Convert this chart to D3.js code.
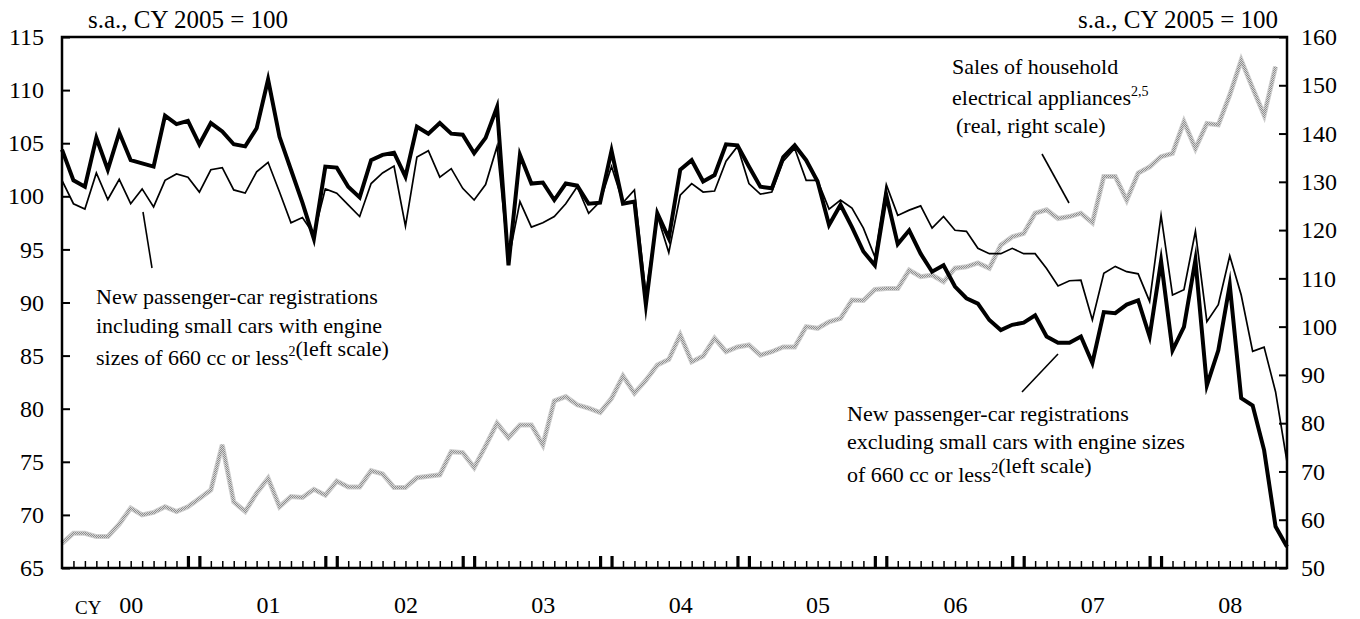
<!DOCTYPE html>
<html>
<head>
<meta charset="utf-8">
<script src="https://cdn.jsdelivr.net/npm/d3@7"></script>
<style>
  body { margin: 0; background: #fff; }
  text { font-family: "Liberation Serif", "Times New Roman", serif; fill: #000; }
  .tick line { stroke: #000; }
  .note { font-size: 22px; }
  .axis text { font-size: 24px; }
</style>
</head>
<body>
<div id="chart"></div>
<script>
//////////////////////////////////////////////////////
///////////////////// data ///////////////////////////
//////////////////////////////////////////////////////

// monthly, Jan 2000 .. Dec 2008 (s.a., CY 2005 = 100)
const yearLabels = ["00", "01", "02", "03", "04", "05", "06", "07", "08"]

// new passenger-car registrations excluding small cars (left scale)
const exclSmall = [
  104.4, 101.5, 100.9, 105.5, 102.5, 106.0, 103.4, 103.1, 102.8, 107.6, 106.8, 107.1,
  104.9, 106.9, 106.1, 104.9, 104.7, 106.4, 111.0, 105.6, 102.5, 99.4, 96.0, 102.8,
  102.7, 100.9, 99.9, 103.4, 103.9, 104.1, 101.85, 106.55, 105.9, 106.9, 105.9, 105.8,
  104.05, 105.5, 108.4, 93.5, 103.9, 101.2, 101.3, 99.65, 101.2, 101.0, 99.3, 99.4,
  104.3, 99.3, 99.5, 89.8, 98.4, 96.05, 102.5, 103.4, 101.4, 102.0, 104.9, 104.8,
  102.8, 100.9, 100.75, 103.7, 104.8, 103.4, 101.4, 97.3, 99.2, 97.1, 94.8, 93.5,
  100.1, 95.5, 96.8, 94.6, 92.9, 93.5, 91.5, 90.4, 89.9, 88.35, 87.4, 87.9,
  88.1, 88.8, 86.8, 86.2, 86.2, 86.8, 84.3, 89.1, 89.0, 89.8, 90.2, 86.8,
  93.9, 85.5, 87.7, 94.0, 82.2, 85.5, 91.65, 81.0, 80.3, 76.1, 68.9, 67.0
]

// new passenger-car registrations including small cars (left scale)
const inclSmall = [
  101.5, 99.3, 98.8, 102.2, 99.7, 101.6, 99.3, 100.7, 99.0, 101.5, 102.1, 101.8,
  100.4, 102.5, 102.7, 100.6, 100.3, 102.3, 103.2, 100.4, 97.5, 98.0, 96.4, 100.7,
  100.3, 99.2, 98.1, 101.2, 102.2, 102.85, 97.2, 103.7, 104.3, 101.8, 102.6, 100.75,
  99.65, 101.1, 104.7, 94.0, 99.5, 97.1, 97.5, 98.1, 99.3, 100.9, 98.4, 99.5,
  102.8, 99.4, 100.6, 90.8, 98.2, 94.7, 100.1, 101.2, 100.4, 100.5, 103.3, 104.7,
  101.2, 100.2, 100.4, 103.3, 104.5, 101.5, 101.5, 98.8, 99.65, 98.9, 97.0, 94.3,
  101.1, 98.2, 98.7, 99.1, 97.0, 98.1, 96.8, 96.7, 95.1, 94.6, 94.6, 95.1,
  94.6, 94.6, 93.2, 91.55, 92.05, 92.1, 88.35, 92.75, 93.4, 92.9, 92.7, 90.1,
  98.2, 90.7, 91.2, 96.7, 88.2, 89.8, 94.4, 90.7, 85.4, 85.8, 81.6, 75.0
]

// sales of household electrical appliances, real (right scale), to Nov 2008
const appliances = [
  55.1, 57.2, 57.2, 56.5, 56.5, 59.1, 62.4, 61.0, 61.5, 62.7, 61.7, 62.7,
  64.4, 66.15, 75.5, 63.7, 61.7, 65.5, 68.6, 62.7, 64.8, 64.6, 66.3, 65.1,
  68.0, 66.8, 66.8, 70.15, 69.5, 66.7, 66.7, 68.7, 69.0, 69.3, 74.1, 73.9,
  70.8, 75.3, 80.0, 77.0, 79.6, 79.6, 75.5, 84.6, 85.5, 83.8, 83.1, 82.2,
  85.15, 89.8, 86.2, 88.9, 92.05, 93.2, 98.3, 92.7, 93.9, 97.6, 94.8, 95.8,
  96.2, 94.1, 94.8, 95.8, 95.8, 100.0, 99.65, 101.0, 101.7, 105.5, 105.4, 107.7,
  107.9, 107.9, 111.7, 110.35, 110.7, 109.3, 112.1, 112.4, 113.2, 112.1, 116.9, 118.6,
  119.3, 123.5, 124.2, 122.4, 122.8, 123.5, 121.5, 131.1, 131.1, 126.2, 131.8, 133.1,
  135.2, 135.9, 142.45, 136.9, 142.1, 141.8, 148.0, 155.2, 149.4, 143.8, 153.85
]

const leftTicks = [65, 70, 75, 80, 85, 90, 95, 100, 105, 110, 115]
const rightTicks = [50, 60, 70, 80, 90, 100, 110, 120, 130, 140, 150, 160]

//////////////////////////////////////////////////////
///////////////////// chart //////////////////////////
//////////////////////////////////////////////////////

const margin = { top: 37, right: 73, bottom: 51, left: 62 }
const width = 1360 - margin.left - margin.right
const height = 619 - margin.top - margin.bottom

const svg = d3.select("#chart").append("svg")
    .attr("width", 1360)
    .attr("height", 619)

const defs = svg.append("defs")
const pat = defs.append("pattern")
    .attr("id", "speckle")
    .attr("width", 2).attr("height", 2)
    .attr("patternUnits", "userSpaceOnUse")
pat.append("rect").attr("width", 2).attr("height", 2).attr("fill", "#d6d6d6")
pat.append("rect").attr("width", 1).attr("height", 1).attr("fill", "#8e8e8e")
pat.append("rect").attr("x", 1).attr("y", 1).attr("width", 1).attr("height", 1).attr("fill", "#8e8e8e")

const g = svg.append("g")
    .attr("transform", "translate(" + margin.left + "," + margin.top + ")")

const x = d3.scaleLinear().domain([0, exclSmall.length - 1]).range([0, width])
const yL = d3.scaleLinear().domain([65, 115]).range([height, 0])
const yR = d3.scaleLinear().domain([50, 160]).range([height, 0])

// month ticks (inside), Dec/Jan pair drawn heavier
const monthTicks = d3.range(1, exclSmall.length - 1)
const xAxis = g.append("g")
    .attr("class", "axis")
    .attr("transform", "translate(0," + height + ")")
    .call(d3.axisBottom(x).tickValues(monthTicks).tickSize(-7).tickFormat(""))
xAxis.select(".domain").remove()
xAxis.selectAll(".tick line")
    .attr("stroke-width", d => (d % 12 === 11 || d % 12 === 0) ? 3.2 : 1.5)
    .attr("y2", d => (d % 12 === 11 || d % 12 === 0) ? -12 : -7)

const yearAxis = g.append("g")
    .attr("class", "axis")
    .attr("transform", "translate(0," + height + ")")
    .call(d3.axisBottom(x)
        .tickValues(yearLabels.map((d, i) => i * 12 + 6))
        .tickSize(0).tickPadding(28)
        .tickFormat((d, i) => yearLabels[i]))
yearAxis.select(".domain").remove()

g.append("text")
    .attr("x", 13).attr("y", height + 46)
    .style("font-size", "19px")
    .text("CY")

const leftAxis = g.append("g")
    .attr("class", "axis")
    .call(d3.axisLeft(yL).tickValues(leftTicks).tickSize(-8).tickPadding(18))
leftAxis.select(".domain").remove()
leftAxis.selectAll(".tick line").attr("stroke-width", 2)

const rightAxis = g.append("g")
    .attr("class", "axis")
    .attr("transform", "translate(" + width + ",0)")
    .call(d3.axisRight(yR).tickValues(rightTicks).tickSize(-8).tickPadding(14))
rightAxis.select(".domain").remove()
rightAxis.selectAll(".tick line").attr("stroke-width", 2)

// lines
const lineL = d3.line().x((d, i) => x(i)).y(d => yL(d))
const lineR = d3.line().x((d, i) => x(i)).y(d => yR(d))

g.append("path")
    .datum(appliances)
    .attr("d", lineR)
    .attr("fill", "none")
    .attr("stroke", "#cfcfcf")
    .attr("stroke-width", 5)

g.append("path")
    .datum(appliances)
    .attr("d", lineR)
    .attr("fill", "none")
    .attr("stroke", "url(#speckle)")
    .attr("stroke-width", 3)

g.append("path")
    .datum(inclSmall)
    .attr("d", lineL)
    .attr("fill", "none")
    .attr("stroke", "#000")
    .attr("stroke-width", 1.7)
    .attr("stroke-linejoin", "miter")
    .attr("stroke-miterlimit", 10)

g.append("path")
    .datum(exclSmall)
    .attr("d", lineL)
    .attr("fill", "none")
    .attr("stroke", "#000")
    .attr("stroke-width", 4)
    .attr("stroke-linejoin", "miter")
    .attr("stroke-miterlimit", 10)

// frame
g.append("rect")
    .attr("width", width).attr("height", height)
    .attr("fill", "none").attr("stroke", "#000").attr("stroke-width", 2.5)

// unit labels
svg.append("text").attr("x", 88).attr("y", 28)
    .style("font-size", "25px").text("s.a., CY 2005 = 100")
svg.append("text").attr("x", 1278).attr("y", 28)
    .style("font-size", "25px").style("text-anchor", "end").text("s.a., CY 2005 = 100")

// annotations
const addNote = function(xp, lines) {
    lines.forEach(function(l) {
        const t = svg.append("text").attr("class", "note").attr("x", xp + (l.dx || 0)).attr("y", l.y)
        l.parts.forEach(function(p) {
            if (p.sup) {
                t.append("tspan").attr("dy", -9).style("font-size", "14px").text(p.sup)
                t.append("tspan").attr("dy", 9).text("")
            } else {
                t.append("tspan").text(p.t)
            }
        })
    })
}

addNote(96, [
    { y: 304, parts: [{ t: "New passenger-car registrations" }] },
    { y: 333, parts: [{ t: "including small cars with engine" }] },
    { y: 365, parts: [{ t: "sizes of 660 cc or less" }, { sup: "2" }, { t: "(left scale)" }] }
])
addNote(952, [
    { y: 74, parts: [{ t: "Sales of household" }] },
    { y: 105, parts: [{ t: "electrical appliances" }, { sup: "2,5" }] },
    { y: 133, dx: 4, parts: [{ t: "(real, right scale)" }] }
])
addNote(847, [
    { y: 421, parts: [{ t: "New passenger-car registrations" }] },
    { y: 449, parts: [{ t: "excluding small cars with engine sizes" }] },
    { y: 482, parts: [{ t: "of 660 cc or less" }, { sup: "2" }, { t: "(left scale)" }] }
])

// leader lines
const leaders = [[143, 212, 152, 268], [1042, 154, 1069, 203], [1058, 354, 1022, 392]]
svg.selectAll(".leader")
    .data(leaders)
    .enter().append("line")
    .attr("class", "leader")
    .attr("x1", d => d[0]).attr("y1", d => d[1])
    .attr("x2", d => d[2]).attr("y2", d => d[3])
    .attr("stroke", "#000").attr("stroke-width", 1.6)
</script>
</body>
</html>
